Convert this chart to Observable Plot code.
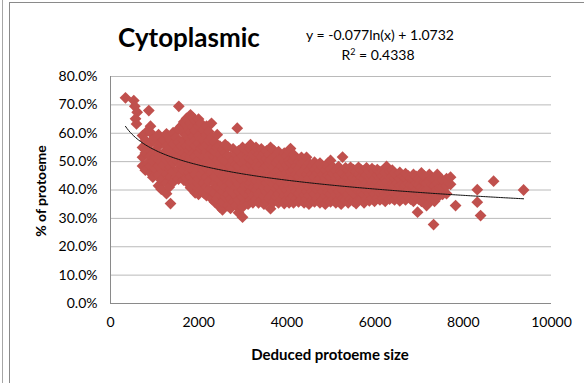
<!DOCTYPE html>
<html>
<head>
<meta charset="utf-8">
<script src="https://cdn.jsdelivr.net/npm/d3@7"></script>
<script src="https://cdn.jsdelivr.net/npm/@observablehq/plot@0.6"></script>
<style>
  body { margin: 0; background: #fff; }
  #chart { width: 584px; height: 383px; }
</style>
</head>
<body>
<div id="chart"></div>
<script>
// Isolated proteomes: [deduced proteome size, % cytoplasmic]
const outliers = [
  [340, 72.5], [528, 71.5], [551, 69.5], [605, 67.4], [567, 65.1], [590, 63.3],
  [869, 68], [1549, 69.5], [2874, 61.8],
  [6963, 32.2], [7326, 27.8], [7711, 44.5], [7825, 34.5],
  [8317, 40.1], [8317, 35.7], [8392, 31], [8687, 43.1], [9367, 40]
];

// Dense band: each row is a proteome size followed by the % cytoplasmic values at that size
const band = [
  [726, 48.5, 51.5, 55, 59.2],
  [790, 47, 53, 57.5],
  [850, 49.5, 54.5, 61],
  [907, 46, 48.5, 52, 56.5, 60.3, 62.5],
  [960, 44.5, 50, 57.8],
  [1020, 47.5, 51.5, 54, 58.5],
  [1089, 41.5, 45.2, 48.5, 52.5, 55.5, 59.5],
  [1150, 40.3, 43.5, 50, 56.8],
  [1200, 46.5, 48.8, 53, 57.5],
  [1270, 38.7, 42.5, 45.5, 50.5, 52.8, 55.5, 59.8],
  [1330, 41, 47.5, 54.3],
  [1361, 35.2, 44.5, 48, 51, 57.5],
  [1420, 42.8, 46.5, 49.5, 53.5, 56.2, 60.2],
  [1490, 44.5, 50.5, 58.5],
  [1542, 43.8, 47.3, 52, 54.5, 57, 61.5],
  [1600, 45.5, 49, 55.5, 62.5],
  [1660, 43.5, 47, 50.5, 53, 57.5, 60, 64],
  [1724, 44.2, 48.5, 52, 55.5, 59.5, 62.8, 65.2],
  [1780, 42, 46, 50, 54, 58, 61.5],
  [1814, 40.8, 44.5, 48, 51.5, 55, 56.8, 60.5, 63.5, 66.5],
  [1870, 43, 47, 53, 58.8, 62.2, 65.5],
  [1920, 39, 41.5, 45.5, 49.5, 51.8, 55.5, 57.5, 61, 64.3],
  [1996, 38.5, 42, 44, 47.5, 50.5, 53.2, 56.5, 59.2, 62.5, 65],
  [2050, 40, 45.5, 49, 54.5, 58, 63.5],
  [2110, 39, 42.5, 47, 51.5, 55, 57.5, 61.2],
  [2177, 38, 41, 44.5, 47.8, 50.3, 53.5, 56, 59.5, 62.5],
  [2230, 40, 43, 48.5, 52, 57.5, 60.5],
  [2290, 37, 39.5, 45.5, 46.5, 50, 54.5, 58.5, 63.5],
  [2359, 35.8, 39, 42.3, 44.8, 48, 51.5, 53.8, 57],
  [2420, 37, 41, 47, 50.5, 55, 59.5],
  [2480, 34, 38.5, 40.5, 43.5, 46, 49.5, 52.5, 55.5],
  [2540, 33, 35.8, 39.5, 42, 45, 48, 51, 54.3],
  [2600, 37.5, 41, 44.5, 47.5, 50.5, 53, 56],
  [2660, 34.5, 38.5, 43, 46, 49.5, 52, 55.2],
  [2722, 33.5, 37, 40.3, 42.5, 46.5, 48.5, 51.5],
  [2780, 35.8, 39, 44, 47.5, 50.5, 54.5],
  [2850, 34.5, 38, 41, 43.5, 46, 49, 52.5],
  [2903, 32, 36.5, 39.5, 42, 45, 48.5, 51, 53.8],
  [2994, 30.4, 34, 37.5, 40, 43.5, 46, 49.5, 52, 55],
  [3050, 35.5, 39, 41.5, 44.5, 47.5, 50.5],
  [3120, 35, 38, 42, 45.5, 48, 51.5, 53.5],
  [3175, 36.5, 39.5, 42.5, 45, 49, 51, 54.5, 56],
  [3230, 35.5, 38.2, 41, 43.5, 47, 50.5, 52.5],
  [3300, 36.8, 40, 43.2, 46.5, 48.5, 53.5, 55],
  [3357, 35.5, 38.5, 41.5, 45, 47.8, 50.2, 52.5],
  [3420, 36.5, 39.5, 43, 46, 49, 51.5, 54.5],
  [3480, 35, 37.8, 41, 44, 47.5, 50.5, 53],
  [3538, 36, 39.2, 42.5, 45.2, 48.5, 51, 53.8],
  [3600, 37, 40.5, 43.5, 46.5, 49.5, 52.5],
  [3629, 33.4, 38, 44.5, 50.5, 55],
  [3700, 35.8, 39, 42, 45.5, 48, 51.5, 54],
  [3760, 37.5, 40.5, 43.5, 46.5, 49.5, 52.2],
  [3810, 35.5, 38.5, 41.5, 44.5, 47, 50.5, 53.5],
  [3880, 36.5, 39.8, 42.5, 45.5, 48.5, 51.2],
  [3940, 35.2, 38, 41, 44, 47.5, 50, 53],
  [3992, 36.5, 40, 43, 46, 48.8, 52],
  [4050, 35.5, 38.5, 41.5, 44.5, 47.5, 50.5, 53.5],
  [4082, 37, 40.5, 43.5, 46.5, 49.5, 54.6],
  [4150, 35.5, 38, 41, 44.2, 47, 50.2, 52.5],
  [4210, 36.8, 39.5, 42.5, 45.5, 48.5, 51],
  [4264, 35.8, 38.8, 41.8, 44.8, 47.5, 50],
  [4330, 36.5, 40, 43, 46, 49.5, 51.5],
  [4390, 35.5, 38.2, 41.2, 44, 47, 50],
  [4445, 36.8, 39.5, 42.5, 45.5, 48.2, 51.5],
  [4500, 35, 38, 41, 44, 46.8, 49.5],
  [4570, 36.5, 39.5, 42.5, 45.5, 48.5],
  [4627, 35.8, 38.5, 41.5, 44.5, 47.2, 49.8],
  [4690, 36.8, 40, 43, 46, 48.5],
  [4750, 35.5, 38.2, 41, 44, 47, 49.5],
  [4808, 36.5, 39.5, 42.5, 45.5, 48],
  [4870, 35, 38, 41.2, 44.2, 47],
  [4930, 36.2, 39.2, 42, 45, 48.2, 49.5],
  [4990, 35.8, 38.5, 41.5, 44.5, 47.5, 50.4],
  [5050, 36.8, 39.8, 42.8, 45.8, 48],
  [5110, 35.5, 38.2, 41, 44, 47],
  [5171, 36.5, 39.5, 42.2, 45.2, 48.2],
  [5230, 35, 38, 41, 44, 46.5],
  [5262, 37, 40, 43, 46, 51.6],
  [5330, 36.5, 39.2, 42, 44.8, 47.8],
  [5390, 35.5, 38.5, 41.5, 44.5, 47],
  [5443, 36.8, 39.8, 42.8, 45.5, 48],
  [5510, 36, 38.8, 41.5, 44.2, 47.2],
  [5570, 35.2, 38, 41, 43.8, 46.5],
  [5624, 36.5, 39.5, 42.5, 45.5, 48],
  [5690, 36.8, 39.2, 41.8, 44.5, 47],
  [5750, 35.5, 38.5, 41.2, 44, 46.8],
  [5806, 36.8, 39.8, 42.5, 45.2, 47.8],
  [5870, 36.2, 39, 41.5, 44.5, 46.5],
  [5930, 37, 39.8, 42.5, 45, 47.5],
  [5987, 36, 38.5, 41.5, 44, 46.8],
  [6050, 37.2, 40, 42.8, 45.2, 47.2],
  [6110, 36.5, 39, 41.5, 44.2, 46.5],
  [6169, 37, 39.8, 42.5, 45, 46.8],
  [6230, 36, 38.5, 41.2, 43.8, 46.2],
  [6260, 37.5, 40.2, 42.8, 48.3],
  [6330, 36.8, 39.5, 42, 44.5, 46.5],
  [6390, 37.2, 39.8, 42.2, 44.8, 47],
  [6441, 36.5, 39, 41.5, 44.2, 46],
  [6500, 37.5, 40, 42.5, 45],
  [6560, 36.2, 38.8, 41.5, 44, 46.2],
  [6623, 37.2, 39.8, 42.2, 44.8],
  [6690, 36.5, 39.2, 41.8, 44.2, 45.8],
  [6750, 37.5, 40, 42.5, 45],
  [6804, 36.8, 39.2, 41.8, 44.2],
  [6870, 36, 38.8, 41.5, 44, 45.5],
  [6930, 37.5, 40, 42.5, 44.8],
  [6986, 36.8, 39.2, 41.8, 44],
  [7050, 36, 38.5, 41, 43.5, 46],
  [7110, 37.5, 40.2, 42.8, 45],
  [7167, 34.5, 37.8, 40, 42.5],
  [7230, 38, 40.5, 43.2, 45.5],
  [7290, 36.5, 39.2, 41.8, 44],
  [7348, 36, 39, 41.5, 43.8],
  [7410, 37.5, 40.2, 42.5, 45.5],
  [7470, 38.2, 40.8, 43.2],
  [7530, 38.5, 41, 43.5],
  [7620, 38.7, 41.5, 44],
  [7711, 42]
];

// Logarithmic trendline and its goodness of fit
const trendSlope = -0.077;
const trendIntercept = 1.0732;
const trendR2 = 0.4338;

const xTicks = [0, 2000, 4000, 6000, 8000, 10000];
const yTicks = [0, 0.1, 0.2, 0.3, 0.4, 0.5, 0.6, 0.7, 0.8];

const points = [
  ...band.flatMap(([size, ...pcts]) => pcts.map(p => ({size, share: p / 100}))),
  ...outliers.map(([size, p]) => ({size, share: p / 100}))
];

const [minSize, maxSize] = d3.extent(points, d => d.size);
const trend = d3.range(0, 241).map(i => {
  const size = minSize + (maxSize - minSize) * i / 240;
  return {size, share: trendSlope * Math.log(size) + trendIntercept};
});

const font = "Lato, 'Noto Sans', sans-serif";

const chart = Plot.plot({
  width: 584,
  height: 383,
  marginLeft: 110,
  marginRight: 33,
  marginTop: 76,
  marginBottom: 80,
  style: {fontFamily: font, fontSize: "14px", color: "#000", background: "#fff", overflow: "visible"},
  x: {domain: [0, 10000]},
  y: {domain: [0, 0.8]},
  marks: [
    Plot.gridY(yTicks, {stroke: "#bababa", strokeOpacity: 1}),
    Plot.ruleY([0], {stroke: "#8a8a8a"}),
    Plot.ruleX([0], {stroke: "#8a8a8a"}),
    Plot.axisX(xTicks, {tickSize: 0, tickPadding: 14, tickFormat: d => String(d), label: null, fontSize: 14}),
    Plot.axisY(yTicks, {tickSize: 0, tickPadding: 13, tickFormat: d => (d * 100).toFixed(1) + "%", label: null, fontSize: 14}),
    Plot.dot(points, {x: "size", y: "share", symbol: "diamond2", r: 5.3, fill: "#c0504d", stroke: "none"}),
    Plot.line(trend, {x: "size", y: "share", stroke: "#111", strokeWidth: 1})
  ]
});

const svg = d3.select(chart);

// Outer frame of the chart area
svg.append("line").attr("x1", 2.5).attr("x2", 2.5).attr("y1", 0).attr("y2", 383).attr("stroke", "#a6a6a6");
svg.append("line").attr("x1", 9.5).attr("x2", 9.5).attr("y1", 2).attr("y2", 383).attr("stroke", "#8a8a8a");
svg.append("line").attr("x1", 9.5).attr("x2", 584).attr("y1", 2.5).attr("y2", 2.5).attr("stroke", "#8a8a8a");

svg.append("text")
  .attr("x", 189).attr("y", 47)
  .attr("text-anchor", "middle")
  .attr("font-family", font).attr("font-weight", "bold").attr("font-size", 26)
  .text("Cytoplasmic");

svg.append("text")
  .attr("x", 380).attr("y", 40)
  .attr("text-anchor", "middle")
  .attr("font-family", font).attr("font-size", 14)
  .text(`y = ${trendSlope}ln(x) + ${trendIntercept}`);

const r2 = svg.append("text")
  .attr("x", 378).attr("y", 60)
  .attr("text-anchor", "middle")
  .attr("font-family", font).attr("font-size", 14);
r2.append("tspan").text("R");
r2.append("tspan").attr("font-size", 9).attr("dy", -5).text("2");
r2.append("tspan").attr("dy", 5).text(` = ${trendR2}`);

svg.append("text")
  .attr("x", 330).attr("y", 360)
  .attr("text-anchor", "middle")
  .attr("font-family", font).attr("font-weight", "bold").attr("font-size", 15)
  .text("Deduced protoeme size");

svg.append("text")
  .attr("transform", "translate(46,191) rotate(-90)")
  .attr("text-anchor", "middle")
  .attr("font-family", font).attr("font-weight", "bold").attr("font-size", 14)
  .text("% of protoeme");

document.getElementById("chart").append(chart);
</script>
</body>
</html>
